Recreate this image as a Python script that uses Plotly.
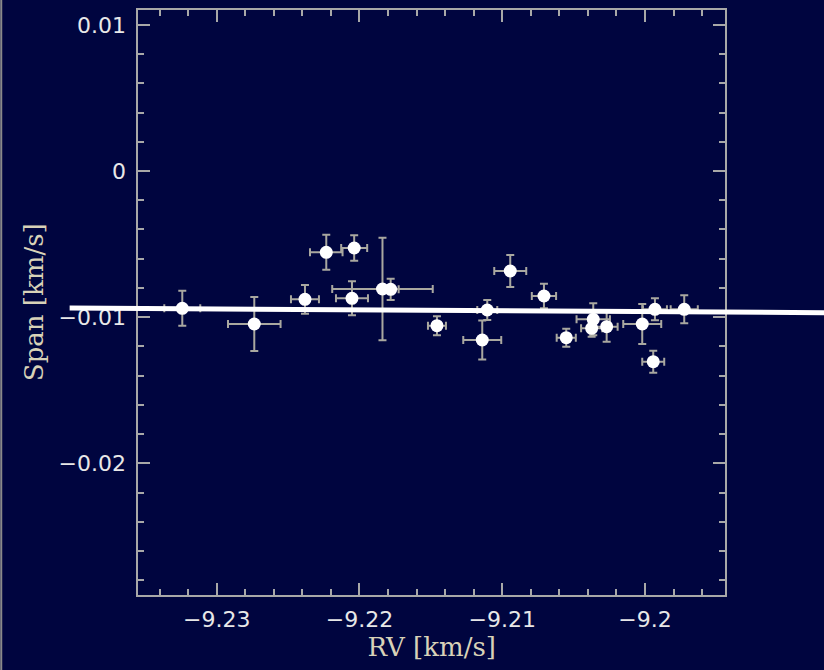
import plotly.graph_objects as go

# ---- data ----
rv = [-9.232409, -9.227367, -9.223817, -9.222325, -9.220371, -9.220525, -9.218389,
      -9.217815, -9.214573, -9.209440, -9.207080, -9.211050, -9.211401, -9.205518,
      -9.203627, -9.203739, -9.202689, -9.200196, -9.199307, -9.199426, -9.197255]
rv_err = [0.00126, 0.00184, 0.00098, 0.00114, 0.00091, 0.00112, 0.00352,
          0.00056, 0.00063, 0.00112, 0.00085, 0.00070, 0.00133, 0.00067,
          0.00117, 0.00074, 0.00077, 0.00133, 0.00084, 0.00077, 0.00095]
span = [-0.009391, -0.010465, -0.008776, -0.005561, -0.005267, -0.008707, -0.008071,
        -0.008092, -0.010581, -0.006840, -0.008550, -0.009508, -0.011560, -0.011402,
        -0.010144, -0.010759, -0.010650, -0.010465, -0.009460, -0.013044, -0.009460]
span_err = [0.00120, 0.00185, 0.00098, 0.00120, 0.00088, 0.00116, 0.00351,
            0.00073, 0.00065, 0.00109, 0.00084, 0.00068, 0.00133, 0.00062,
            0.00109, 0.00057, 0.00103, 0.00137, 0.00075, 0.00075, 0.00096]

fit_rv = [-9.2403, -9.1865]
fit_span = [-0.009371, -0.009698]

x_range = [-9.23549, -9.19440]
y_range = [-0.028967, 0.011012]

# ---- layout geometry ----
W, H = 824, 670
x_domain = [138.3 / W, 725.0 / W]
y_domain = [(H - 594.5) / H, (H - 10.0) / H]

sx = (x_range[1] - x_range[0]) / (x_domain[1] - x_domain[0])
sy = (y_range[1] - y_range[0]) / (y_domain[1] - y_domain[0])
x2_range = [x_range[0] - x_domain[0] * sx, x_range[1] + (1 - x_domain[1]) * sx]
y2_range = [y_range[0] - y_domain[0] * sy, y_range[1] + (1 - y_domain[1]) * sy]

BG = "#00053f"
AXC = "#a8a8a8"
ERRC = "#a9a8a0"
TICKC = "#e8e8e8"
TITC = "#d8d2b8"

fig = go.Figure()
fig.add_trace(go.Scatter(
    x=rv, y=span, mode="markers",
    marker=dict(color="white", size=13, line=dict(width=0)),
    error_x=dict(type="data", array=rv_err, color=ERRC, thickness=2, width=4),
    error_y=dict(type="data", array=span_err, color=ERRC, thickness=2, width=4),
    xaxis="x", yaxis="y", showlegend=False, cliponaxis=False,
))
fig.add_trace(go.Scatter(
    x=fit_rv, y=fit_span, mode="lines",
    line=dict(color="white", width=5),
    xaxis="x2", yaxis="y2", showlegend=False,
))

axis_common = dict(
    showgrid=False, zeroline=False, showline=True, linecolor=AXC, linewidth=2,
    mirror="ticks", ticks="inside", ticklen=12, tickwidth=2, tickcolor=AXC,
    tickfont=dict(family="DejaVu Sans", size=22, color=TICKC),
    minor=dict(ticks="inside", ticklen=6, tickwidth=1.5, tickcolor=AXC, dtick=0.002),
)

fig.update_layout(
    width=W, height=H,
    margin=dict(l=0, r=0, t=0, b=0),
    paper_bgcolor=BG, plot_bgcolor="rgba(0,0,0,0)",
    xaxis=dict(domain=x_domain, range=x_range, dtick=0.01, tick0=-9.2,
               anchor="y", ticklabelstandoff=4,
               title=dict(text="RV [km/s]", standoff=5,
                          font=dict(family="DejaVu Serif", size=26, color=TITC)),
               **axis_common),
    yaxis=dict(domain=y_domain, range=y_range, dtick=0.01, tick0=0,
               anchor="x", ticklabelstandoff=6,
               title=dict(text="Span [km/s]", standoff=7,
                          font=dict(family="DejaVu Serif", size=26, color=TITC)),
               **axis_common),
    xaxis2=dict(domain=[0, 1], range=x2_range, visible=False, anchor="y2"),
    yaxis2=dict(domain=[0, 1], range=y2_range, visible=False, anchor="x2"),
    shapes=[dict(type="line", xref="paper", yref="paper", x0=0.0015, x1=0.0015,
                 y0=0, y1=1, line=dict(color="#8a8a8a", width=2))],
)

fig.write_html(
    "out.html",
    config={"displayModeBar": False},
    post_script="document.body.style.margin='0px';"
                "document.body.style.background='" + BG + "';",
)
